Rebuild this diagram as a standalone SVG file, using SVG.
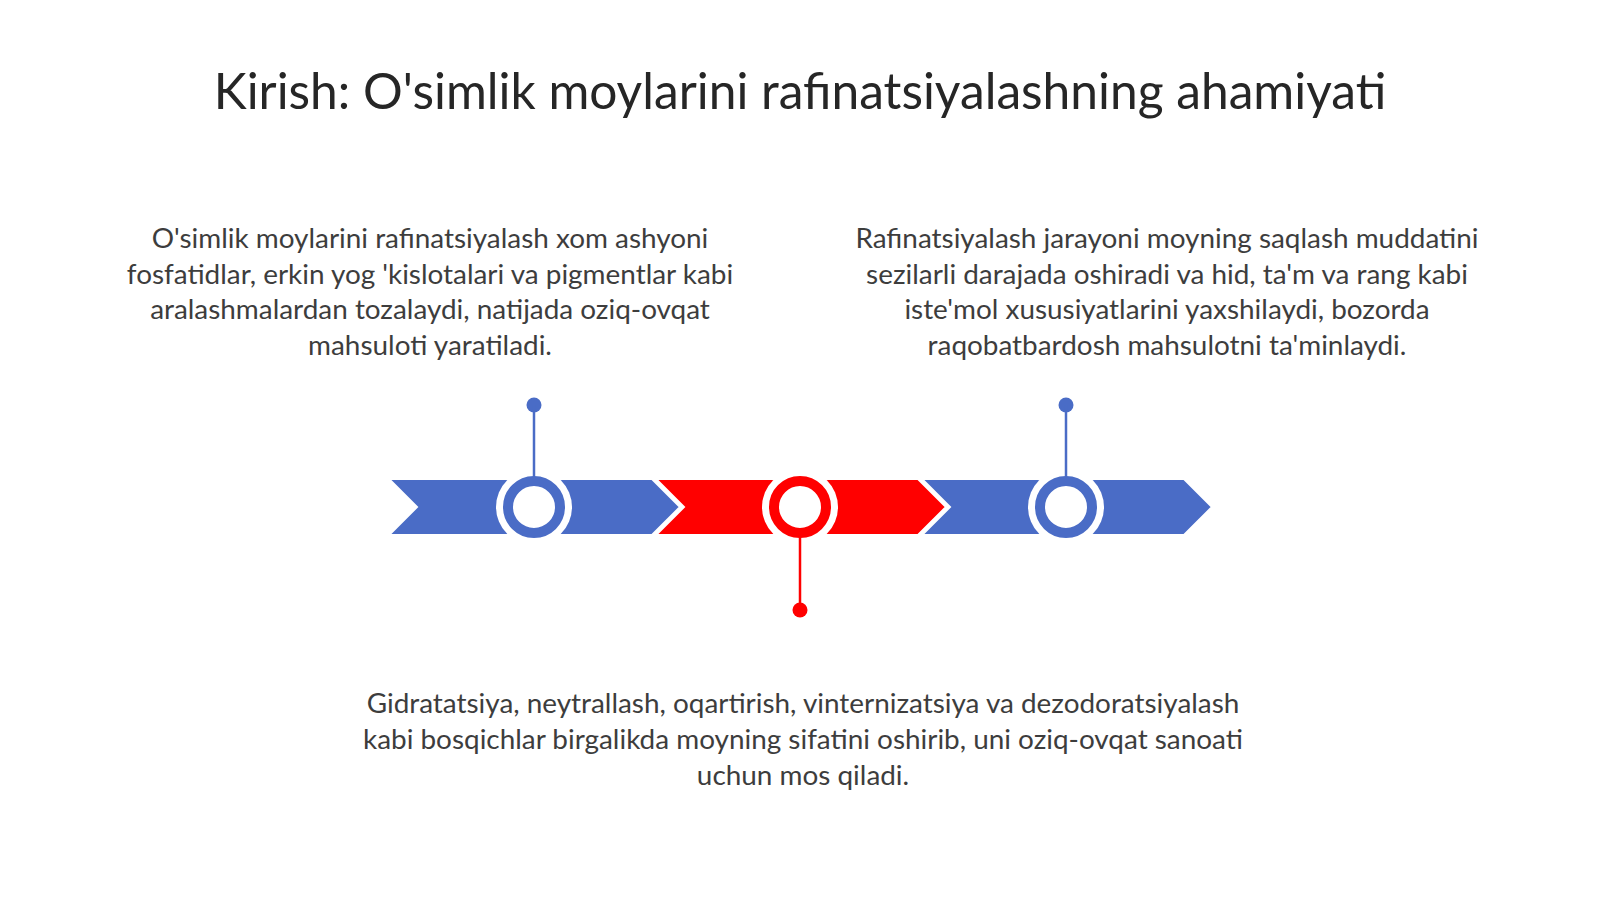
<svg xmlns="http://www.w3.org/2000/svg" width="1600" height="899" viewBox="0 0 1600 899">
<style>
.title{font-family:Lato,"Carlito","Liberation Sans",sans-serif;font-size:49.7px;fill:#262626;text-anchor:middle}
.body{font-family:Lato,"Carlito","Liberation Sans",sans-serif;font-size:27.9px;fill:#3d3d3d;text-anchor:middle}
.blue{fill:#4A6CC6}
.red{fill:#FF0000}
.seg{stroke:#FFFFFF;stroke-width:2}
.halo{fill:#FFFFFF}
.ringb{fill:#FFFFFF;stroke:#4A6CC6;stroke-width:10}
.ringr{fill:#FFFFFF;stroke:#FF0000;stroke-width:10}
.stemb{stroke:#4A6CC6;stroke-width:2.5}
.stemr{stroke:#FF0000;stroke-width:2.5}
</style>
<rect x="0" y="0" width="1600" height="899" fill="#FFFFFF"/>
<g id="title"><text class="title" x="800" y="109">Kirish: O'simlik moylarini rafinatsiyalashning ahamiyati</text></g>
<g id="timeline">
<path class="seg blue" d="M389,479 L652,479 L680,507 L652,535 L389,535 L417,507 Z"/>
<path class="seg red" d="M656,479 L918,479 L946,507 L918,535 L656,535 L684,507 Z"/>
<path class="seg blue" d="M922,479 L1184,479 L1212,507 L1184,535 L922,535 L950,507 Z"/>
</g>
<g id="node1">
<circle class="halo" cx="534" cy="507" r="38"/>
<circle class="ringb" cx="534" cy="507" r="26"/>
<circle class="blue" cx="534" cy="405" r="7.5"/>
<text class="body" x="430" y="247.5">O'simlik moylarini rafinatsiyalash xom ashyoni</text>
<text class="body" x="430" y="283.5">fosfatidlar, erkin yog 'kislotalari va pigmentlar kabi</text>
<text class="body" x="430" y="318.5">aralashmalardan tozalaydi, natijada oziq-ovqat</text>
<text class="body" x="430" y="354.5">mahsuloti yaratiladi.</text>
</g>
<g id="node2">
<circle class="halo" cx="800" cy="507" r="38"/>
<circle class="ringr" cx="800" cy="507" r="26"/>
<circle class="red" cx="800" cy="610" r="7.5"/>
<text class="body" x="803" y="713">Gidratatsiya, neytrallash, oqartirish, vinternizatsiya va dezodoratsiyalash</text>
<text class="body" x="803" y="749">kabi bosqichlar birgalikda moyning sifatini oshirib, uni oziq-ovqat sanoati</text>
<text class="body" x="803" y="785">uchun mos qiladi.</text>
</g>
<g id="node3">
<circle class="halo" cx="1066" cy="507" r="38"/>
<circle class="ringb" cx="1066" cy="507" r="26"/>
<circle class="blue" cx="1066" cy="405" r="7.5"/>
<text class="body" x="1167" y="247.5">Rafinatsiyalash jarayoni moyning saqlash muddatini</text>
<text class="body" x="1167" y="283.5">sezilarli darajada oshiradi va hid, ta'm va rang kabi</text>
<text class="body" x="1167" y="318.5">iste'mol xususiyatlarini yaxshilaydi, bozorda</text>
<text class="body" x="1167" y="354.5">raqobatbardosh mahsulotni ta'minlaydi.</text>
</g>
<g id="connectors">
<line class="stemb" x1="534" y1="405" x2="534" y2="477"/>
<line class="stemr" x1="800" y1="537" x2="800" y2="610"/>
<line class="stemb" x1="1066" y1="405" x2="1066" y2="477"/>
</g>
</svg>
